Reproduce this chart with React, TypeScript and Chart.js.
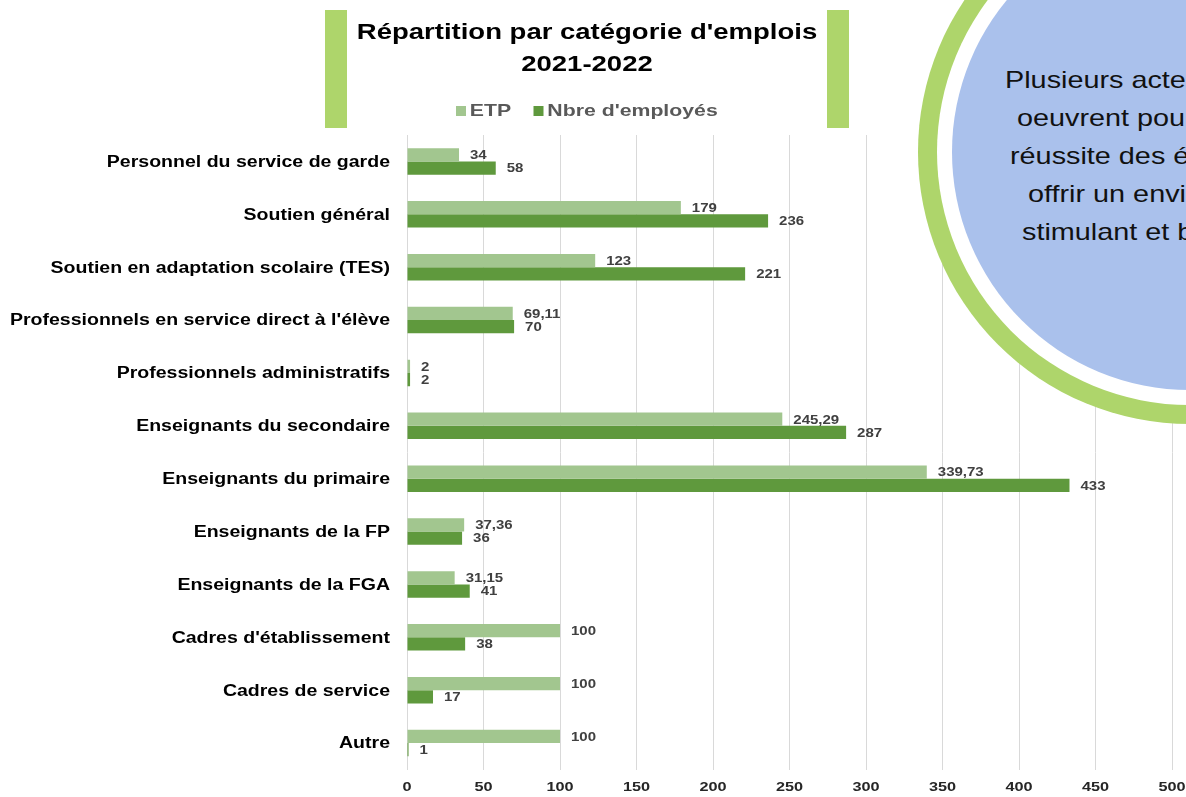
import React, { useEffect, useRef } from "react";
import { Chart, registerables } from "chart.js";

Chart.register(...registerables);

const categories = [
  "Personnel du service de garde",
  "Soutien général",
  "Soutien en adaptation scolaire (TES)",
  "Professionnels en service direct à l'élève",
  "Professionnels administratifs",
  "Enseignants du secondaire",
  "Enseignants du primaire",
  "Enseignants de la FP",
  "Enseignants de la FGA",
  "Cadres d'établissement",
  "Cadres de service",
  "Autre",
];
const etpValues = [34, 179, 123, 69.11, 2, 245.29, 339.73, 37.36, 31.15, 100, 100, 100];
const employeValues = [58, 236, 221, 70, 2, 287, 433, 36, 41, 38, 17, 1];
const seriesNames = ["ETP", "Nbre d'employés"];
const xTicks = [0, 50, 100, 150, 200, 250, 300, 350, 400, 450, 500];
const titleLines = ["Répartition par catégorie d'emplois", "2021-2022"];
const circleLines = [
  "Plusieurs acteurs",
  "oeuvrent pour la",
  "réussite des élèves",
  "offrir un environnement",
  "stimulant et bienveillant",
];

const ETP_COLOR = "#a2c68f";
const EMP_COLOR = "#5f993d";
const FONT = "'Liberation Sans', Arial, sans-serif";
const STRETCH = 1.25;

function drawStretched(ctx: any, text: string, x: number, y: number, align: string, k: number) {
  ctx.save();
  ctx.translate(x, y);
  ctx.scale(k, 1);
  ctx.textAlign = align;
  ctx.fillText(text, 0, 0);
  ctx.restore();
}

const textPlugin = {
  id: "stretchedText",
  afterDatasetsDraw(chart: any) {
    const ctx = chart.ctx;
    ctx.save();
    ctx.textBaseline = "middle";
    // data labels
    ctx.font = `bold 12px ${FONT}`;
    ctx.fillStyle = "#404040";
    chart.data.datasets.forEach((ds: any, di: number) => {
      const meta = chart.getDatasetMeta(di);
      meta.data.forEach((el: any, i: number) => {
        const txt = String(ds.data[i]).replace(".", ",");
        drawStretched(ctx, txt, el.x + 11, el.y + 1, "left", STRETCH);
      });
    });
    // category labels
    const ys = chart.scales.y;
    ctx.font = `bold 16px ${FONT}`;
    ctx.fillStyle = "#000000";
    chart.data.labels.forEach((lab: string, i: number) => {
      drawStretched(ctx, lab, 390, ys.getPixelForValue(i) + 1, "right", 1.22);
    });
    // x tick labels
    const xs = chart.scales.x;
    ctx.font = `bold 13px ${FONT}`;
    ctx.fillStyle = "#262626";
    xTicks.forEach((v) => {
      drawStretched(ctx, String(v), xs.getPixelForValue(v), 787, "center", STRETCH);
    });
    ctx.restore();
  },
};

function BarChart() {
  const ref = useRef<HTMLCanvasElement>(null);
  useEffect(() => {
    if (!ref.current) return;
    const chart = new Chart(ref.current, {
      type: "bar",
      data: {
        labels: categories,
        datasets: [
          {
            label: seriesNames[0],
            data: etpValues,
            backgroundColor: ETP_COLOR,
            barPercentage: 1,
            categoryPercentage: 0.5,
          },
          {
            label: seriesNames[1],
            data: employeValues,
            backgroundColor: EMP_COLOR,
            barPercentage: 1,
            categoryPercentage: 0.5,
          },
        ],
      },
      options: {
        indexAxis: "y",
        animation: false,
        responsive: false,
        maintainAspectRatio: false,
        layout: { padding: { left: 0, top: 135, right: 14, bottom: 0 } },
        plugins: {
          legend: { display: false },
          title: { display: false },
          tooltip: { enabled: false },
        },
        scales: {
          x: {
            min: 0,
            max: 500,
            afterBuildTicks: (axis: any) => {
              axis.ticks = xTicks.map((v) => ({ value: v }));
            },
            afterFit: (axis: any) => {
              axis.height = 27.5;
              axis.paddingRight = 0;
              axis.paddingLeft = 0;
            },
            grid: { color: "#d9d9d9", lineWidth: 1, drawTicks: false },
            border: { display: false },
            ticks: {
              padding: 10,
              color: "rgba(0,0,0,0)",
              font: { family: FONT, size: 1 },
            },
          },
          y: {
            afterFit: (axis: any) => {
              axis.width = 407;
              axis.paddingTop = 0;
              axis.paddingBottom = 0;
            },
            grid: { display: false, drawTicks: false },
            border: { display: false },
            ticks: {
              padding: 17,
              color: "rgba(0,0,0,0)",
              font: { family: FONT, size: 1 },
            },
          },
        },
      },
      plugins: [textPlugin],
    } as any);
    return () => chart.destroy();
  }, []);
  return (
    <canvas
      ref={ref}
      width={1186}
      height={797}
      style={{ position: "absolute", left: 0, top: 0, width: 1186, height: 797 }}
    />
  );
}

export default function App() {
  return (
    <div
      style={{
        position: "fixed",
        left: 0,
        top: 0,
        width: 1186,
        height: 797,
        overflow: "hidden",
        background: "#ffffff",
        fontFamily: FONT,
      }}
    >
      <BarChart />
      {/* Title block */}
      <div style={{ position: "absolute", left: 325, top: 10, width: 22, height: 118, background: "#aed56b" }} />
      <div style={{ position: "absolute", left: 827, top: 10, width: 22, height: 118, background: "#aed56b" }} />
      <div
        style={{
          position: "absolute",
          left: 287,
          width: 600,
          top: 16,
          textAlign: "center",
          fontWeight: "bold",
          fontSize: 22,
          lineHeight: "32px",
          color: "#000",
          transform: `scaleX(${STRETCH})`,
          transformOrigin: "center",
        }}
      >
        {titleLines.map((t) => (
          <div key={t}>{t}</div>
        ))}
      </div>
      {/* Legend */}
      <div
        style={{
          position: "absolute",
          left: 456,
          top: 101,
          display: "flex",
          alignItems: "center",
          fontWeight: "bold",
          fontSize: 17,
          color: "#595959",
          whiteSpace: "nowrap",
          transform: `scaleX(${STRETCH})`,
          transformOrigin: "left center",
        }}
      >
        <span style={{ display: "inline-block", width: 8, height: 10, background: ETP_COLOR, marginRight: 3 }} />
        <span style={{ marginRight: 18 }}>{seriesNames[0]}</span>
        <span style={{ display: "inline-block", width: 8, height: 10, background: EMP_COLOR, marginRight: 3 }} />
        <span>{seriesNames[1]}</span>
      </div>
      {/* Circle overlay */}
      <div
        style={{
          position: "absolute",
          left: 918,
          top: 152 - 272,
          width: 544,
          height: 544,
          borderRadius: "50%",
          background: "#aed56b",
        }}
      />
      <div
        style={{
          position: "absolute",
          left: 937,
          top: 152 - 253,
          width: 506,
          height: 506,
          borderRadius: "50%",
          background: "#ffffff",
        }}
      />
      <div
        style={{
          position: "absolute",
          left: 952,
          top: 152 - 238,
          width: 476,
          height: 476,
          borderRadius: "50%",
          background: "#aac1ec",
        }}
      />
      {circleLines.map((t, i) => (
        <div
          key={t}
          style={{
            position: "absolute",
            left: [1005, 1017, 1010, 1028, 1022][i],
            top: 66 + i * 38,
            fontSize: 24,
            lineHeight: "28px",
            color: "#111",
            whiteSpace: "nowrap",
            transform: "scaleX(1.2)",
            transformOrigin: "left center",
          }}
        >
          {t}
        </div>
      ))}
    </div>
  );
}
